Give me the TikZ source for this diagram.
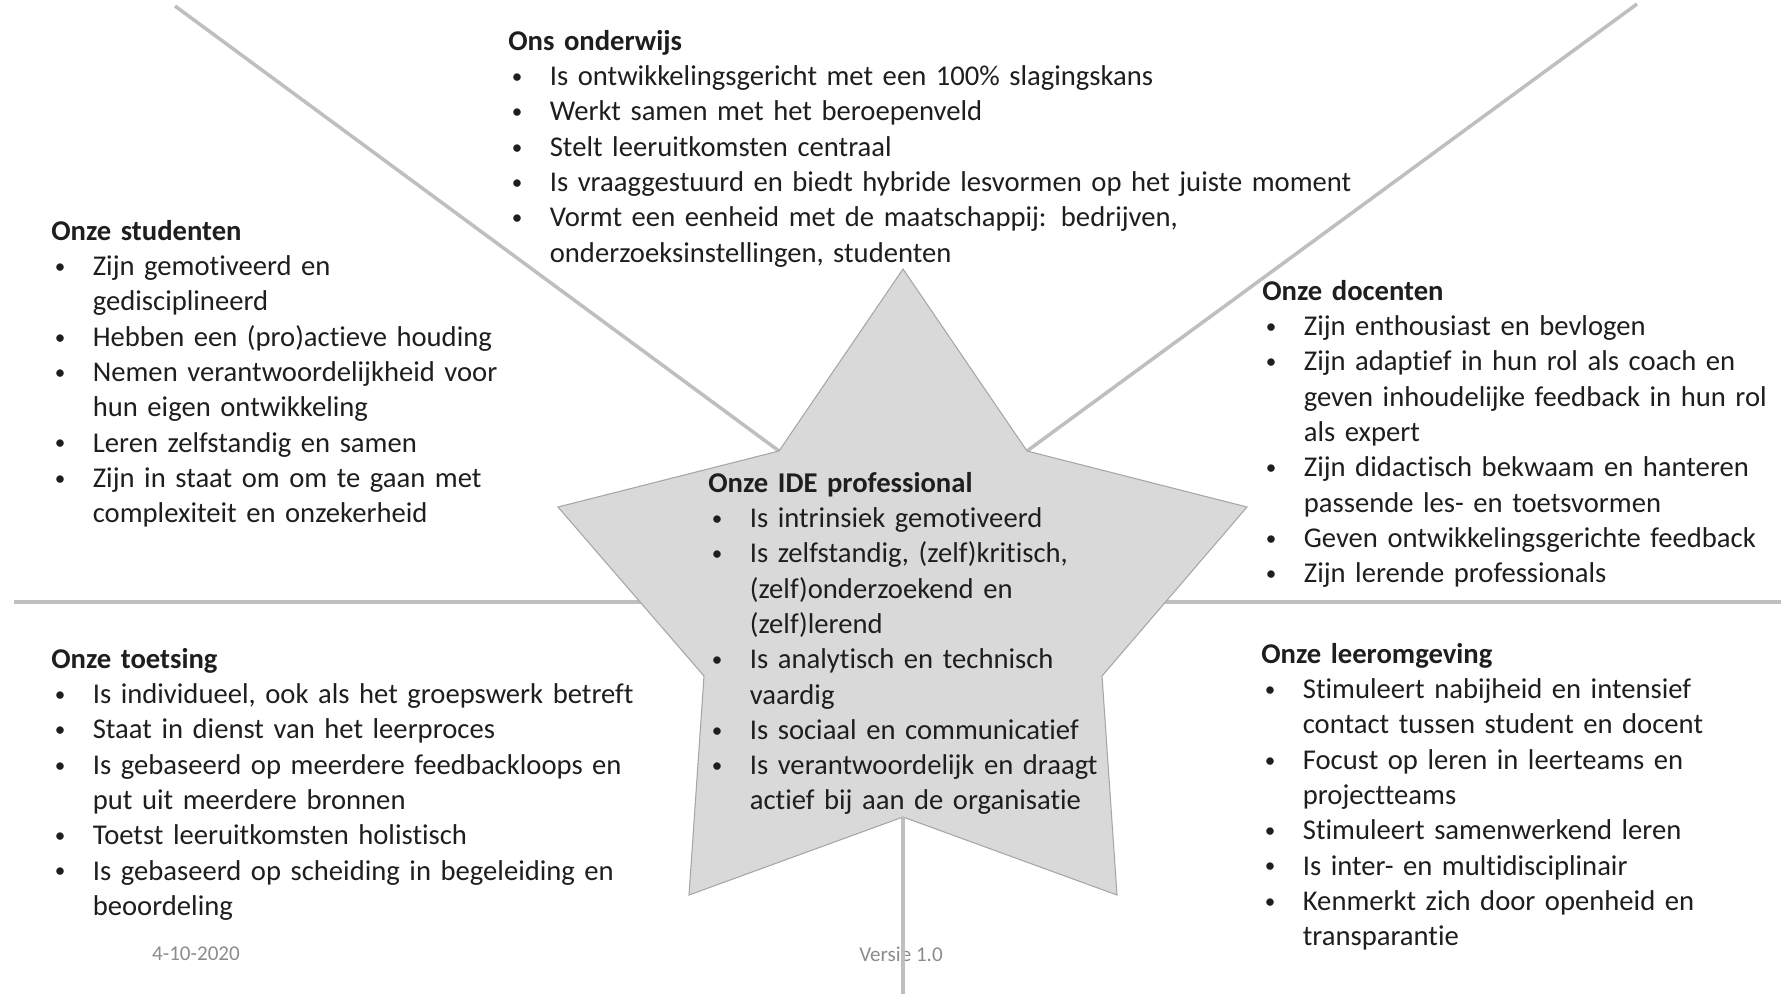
\documentclass[tikz,border=0pt]{standalone}
\usepackage{fontspec}
\setmainfont{Carlito}[Ligatures=NoCommon]
\usepackage{tikz}
\definecolor{inkdark}{HTML}{1E1E1E}
\definecolor{raygray}{HTML}{BFBFBF}
\definecolor{starfill}{HTML}{D9D9D9}
\definecolor{starborder}{HTML}{A6A6A6}
\definecolor{footgray}{HTML}{8C8C8C}

\hyphenpenalty=10000
\exhyphenpenalty=10000
\newcommand{\kop}[1]{\rule{0pt}{15pt}\textbf{#1}}
\newcommand{\itm}{\par\hangindent=0.83cm\hangafter=1\noindent\makebox[0.83cm][l]{\hspace{0.07cm}{\fontsize{12}{12}\selectfont\raisebox{1.2pt}{\textbullet}}}}

\begin{document}
\begin{tikzpicture}[
    x=0.02cm, y=-0.02cm,
    ray/.style={draw=raygray, line width=2pt},
    starpoly/.style={fill=starfill, draw=starborder, line width=0.6pt, line join=miter},
    listbox/.style={anchor=north west, inner sep=0pt, text width=#1, align=left, font=\fontsize{16.3}{20.09}\selectfont, text=inkdark},
    listbox/.default=12cm,
    foottext/.style={anchor=base, inner sep=0pt, font=\fontsize{12}{14}\selectfont, text=footgray}
]
    \path[use as bounding box, fill=white] (0,0) rectangle (1781,994);

    % --- STAR CORNERS ---
    \coordinate (st) at (903,269);
    \coordinate (siur) at (1027,451);
    \coordinate (sr) at (1247,507);
    \coordinate (silr) at (1102,676);
    \coordinate (sbr) at (1117,895);
    \coordinate (sib) at (903,817);
    \coordinate (sbl) at (689,895);
    \coordinate (sill) at (704,676);
    \coordinate (sl) at (558,507);
    \coordinate (siul) at (779,451);

    % --- RAYS BEHIND THE STAR ---
    \coordinate (rayul) at (175,6);
    \coordinate (rayur) at (1637,4);
    \coordinate (rayl) at (14,602);
    \coordinate (rayr) at (1781,602);
    \coordinate (raybot) at (903,994);
    \draw[ray] (rayul) -- (siul);
    \draw[ray] (rayur) -- (siur);
    \draw[ray] (rayl) -- (rayr);

    % --- CENTRAL STAR ---
    \draw[starpoly] (st) -- (siur) -- (sr) -- (silr) -- (sbr) -- (sib)
        -- (sbl) -- (sill) -- (sl) -- (siul) -- cycle;

    % --- TEXT BLOCKS ---
    \node[listbox=18cm] (onderwijs) at (508,23.6) {
        \kop{Ons onderwijs}
        \itm Is ontwikkelingsgericht met een 100\% slagingskans
        \itm Werkt samen met het beroepenveld
        \itm Stelt leeruitkomsten centraal
        \itm Is vraaggestuurd en biedt hybride lesvormen op het juiste moment
        \itm Vormt een eenheid met de maatschappij: bedrijven,\newline onderzoeksinstellingen, studenten\par
    };

    \node[listbox] (studenten) at (51,213.6) {
        \kop{Onze studenten}
        \itm Zijn gemotiveerd en\newline gedisciplineerd
        \itm Hebben een (pro)actieve houding
        \itm Nemen verantwoordelijkheid voor\newline hun eigen ontwikkeling
        \itm Leren zelfstandig en samen
        \itm Zijn in staat om om te gaan met\newline complexiteit en onzekerheid\par
    };

    \node[listbox] (docenten) at (1262,273.6) {
        \kop{Onze docenten}
        \itm Zijn enthousiast en bevlogen
        \itm Zijn adaptief in hun rol als coach en\newline geven inhoudelijke feedback in hun rol\newline als expert
        \itm Zijn didactisch bekwaam en hanteren\newline passende les- en toetsvormen
        \itm Geven ontwikkelingsgerichte feedback
        \itm Zijn lerende professionals\par
    };

    \node[listbox] (professional) at (708,465.6) {
        \kop{Onze IDE professional}
        \itm Is intrinsiek gemotiveerd
        \itm Is zelfstandig, (zelf)kritisch,\newline (zelf)onderzoekend en\newline (zelf)lerend
        \itm Is analytisch en technisch\newline vaardig
        \itm Is sociaal en communicatief
        \itm Is verantwoordelijk en draagt\newline actief bij aan de organisatie\par
    };

    \node[listbox] (toetsing) at (51,641.6) {
        \kop{Onze toetsing}
        \itm Is individueel, ook als het groepswerk betreft
        \itm Staat in dienst van het leerproces
        \itm Is gebaseerd op meerdere feedbackloops en\newline put uit meerdere bronnen
        \itm Toetst leeruitkomsten holistisch
        \itm Is gebaseerd op scheiding in begeleiding en\newline beoordeling\par
    };

    \node[listbox] (leeromgeving) at (1261,636.6) {
        \kop{Onze leeromgeving}
        \itm Stimuleert nabijheid en intensief\newline contact tussen student en docent
        \itm Focust op leren in leerteams en\newline projectteams
        \itm Stimuleert samenwerkend leren
        \itm Is inter- en multidisciplinair
        \itm Kenmerkt zich door openheid en\newline transparantie\par
    };

    % --- FOOTER ---
    \node[foottext] (datum) at (196,960) {4-10-2020};
    \node[foottext] (versie) at (901,961) {Versie 1.0};
    \draw[ray] (sib) -- (raybot);
\end{tikzpicture}
\end{document}
